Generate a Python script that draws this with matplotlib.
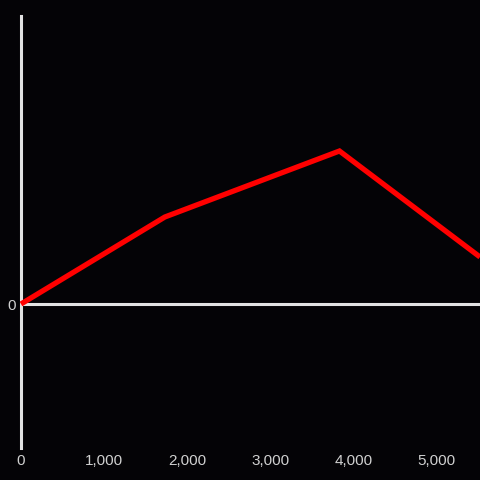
import matplotlib.pyplot as plt
from matplotlib.ticker import FuncFormatter

# data
dist = [0, 1730, 3830, 5520]
height = [0, 87, 153, 47]
xticks = [0, 1000, 2000, 3000, 4000, 5000]

bg = "#040306"
axis_col = "#e2e2e2"
text_col = "#d0d0d0"

plt.rcParams["font.family"] = ["Liberation Sans", "DejaVu Sans"]

fig = plt.figure(figsize=(4.8, 4.8), dpi=100, facecolor=bg)
ax = fig.add_axes([20 / 480, 32 / 480, 460 / 480, 432 / 480], facecolor=bg)

ax.plot(dist, height, color="#ff0000", lw=3.8, solid_capstyle="butt",
        solid_joinstyle="miter", zorder=3)
ax.axhline(0, color=axis_col, lw=2.2, zorder=2)

ax.set_xlim(-12, 5520)
ax.set_ylim(-144, 288)

for s in ["top", "right", "bottom"]:
    ax.spines[s].set_visible(False)
ax.spines["left"].set_color(axis_col)
ax.spines["left"].set_linewidth(2.2)
ax.spines["left"].set_position(("data", 0))

ax.set_xticks(xticks)
ax.xaxis.set_major_formatter(FuncFormatter(lambda v, p: f"{int(v):,}"))
ax.set_yticks([0])
ax.tick_params(axis="x", length=0, pad=4.5, colors=text_col, labelsize=11)
ax.tick_params(axis="y", length=0, pad=4, colors=text_col, labelsize=11)

fig.savefig("out.png", dpi=100, facecolor=bg)
